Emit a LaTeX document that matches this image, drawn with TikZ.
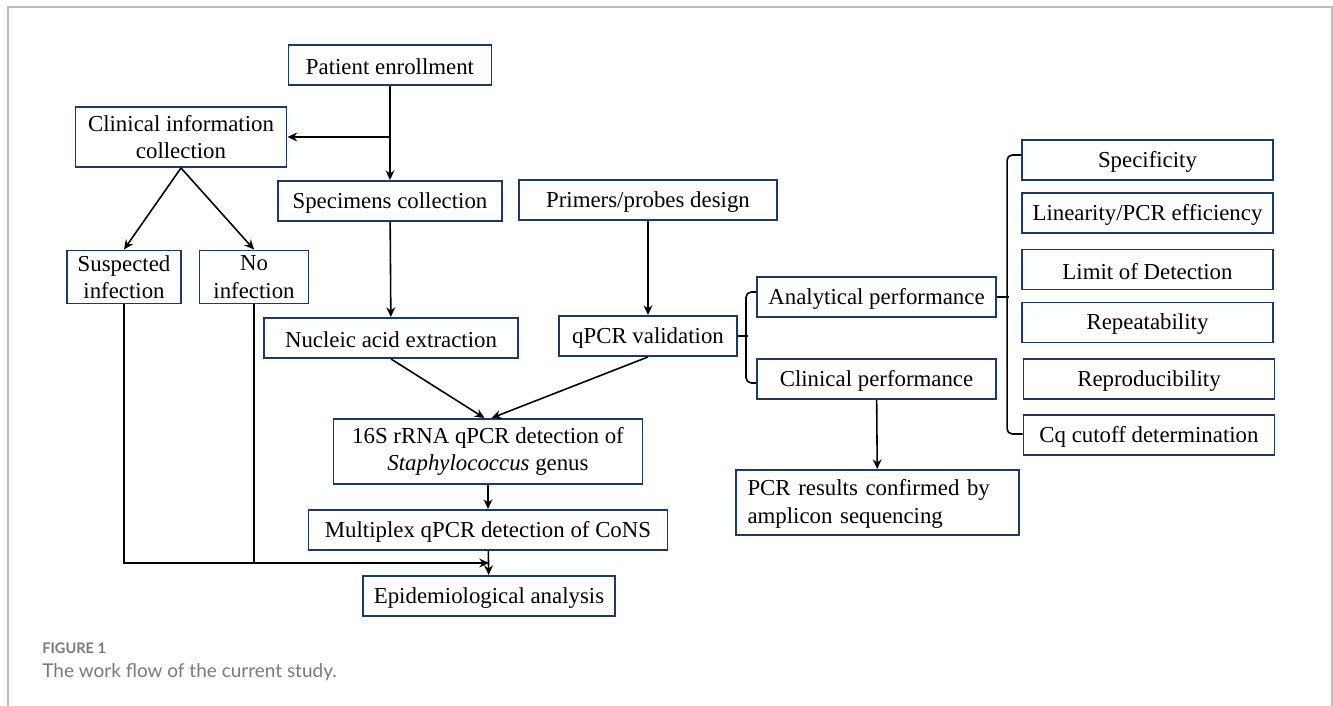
\documentclass[tikz,border=0pt]{standalone}
\usepackage{fontspec}
\setmainfont{Liberation Serif}
\newfontfamily\capfont{Lato}
\usetikzlibrary{arrows.meta}
\definecolor{boxblue}{HTML}{1F3A60}
\definecolor{framegray}{HTML}{BDBDBD}
\definecolor{capgray}{HTML}{7A7A7A}
\tikzstyle{box}=[draw=boxblue, line width=1.1pt, inner sep=0, minimum height=0.8cm, align=center, execute at begin node={\rule{0pt}{11pt}}, font=\fontsize{13}{15.6}\selectfont]
\tikzstyle{tall}=[minimum height=1.2cm]
\tikzstyle{arr}=[line width=0.9pt, -{Stealth[length=5.5pt, width=5pt]}]
\tikzstyle{brk}=[line width=0.9pt, rounded corners=3pt]

\begin{document}
\begin{tikzpicture}
      \useasboundingbox (0,0) rectangle (26.66,-14.12);
      \draw[framegray, line width=1.2pt] (0.16,-14.12) -- (0.16,-0.14) -- (26.64,-0.14) -- (26.64,-14.12);

      \node[box, minimum width=4.06cm] (pat) at (7.8,-1.3) {Patient enrollment};
      \node[box, tall, minimum width=4.22cm] (clin) at (3.62,-2.74) {Clinical information\\collection};
      \node[box, minimum width=4.48cm] (spec) at (7.8,-4.02) {Specimens collection};
      \node[box, minimum width=5.16cm] (prim) at (12.96,-4.0) {Primers/probes design};
      \node[box, tall, minimum height=1.06cm, minimum width=2.28cm] (susp) at (2.48,-5.54) {Suspected\\infection};
      \node[box, tall, minimum height=1.06cm, minimum width=2.18cm] (noinf) at (5.08,-5.54) {No\\infection};
      \node[box, minimum width=5.08cm] (nucl) at (7.82,-6.76) {Nucleic acid extraction};
      \node[box, minimum width=3.56cm] (val) at (12.96,-6.72) {qPCR validation};
      \node[box, tall, minimum height=1.3cm, minimum width=6.18cm] (rrna) at (9.76,-9.03) {16S rRNA qPCR detection of\\\textit{Staphylococcus} genus};
      \node[box, minimum width=7.18cm] (mult) at (9.76,-10.6) {Multiplex qPCR detection of CoNS};
      \node[box, minimum width=5.04cm] (epi) at (9.78,-11.92) {Epidemiological analysis};

      \node[box, minimum width=4.78cm] (anal) at (17.53,-5.94) {Analytical performance};
      \node[box, minimum width=4.78cm] (clinp) at (17.53,-7.58) {Clinical performance};
      \node[box, tall, minimum height=1.3cm, minimum width=5.66cm, text width=5.2cm, align=left] (seq) at (17.55,-10.05) {PCR results confirmed by\\amplicon sequencing};

      \node[box, minimum width=5.02cm] (specif) at (22.95,-3.2) {Specificity};
      \node[box, minimum width=5.02cm] (lin) at (22.95,-4.26) {Linearity/PCR efficiency};
      \node[box, minimum width=5.02cm] (lod) at (22.95,-5.39) {Limit of Detection};
      \node[box, minimum width=5.02cm] (rep) at (22.95,-6.45) {Repeatability};
      \node[box, minimum width=5.02cm] (repro) at (22.98,-7.58) {Reproducibility};
      \node[box, minimum width=5.02cm] (cq) at (22.98,-8.7) {Cq cutoff determination};

      \draw[arr] (pat) -- (spec);
      \draw[arr] (pat.south |- clin.east) -- (clin.east);
      \draw[arr] (clin.south) -- (susp.north);
      \draw[arr] (clin.south) -- (noinf.north);
      \draw[arr] (spec) -- (nucl);
      \draw[arr] (prim) -- (val);
      \draw[arr] (nucl.south) -- ([xshift=-2pt]rrna.north);
      \draw[arr] (val.south) -- ([xshift=2pt]rrna.north);
      \draw[arr] (rrna) -- (mult);
      \draw[arr] (mult) -- (epi);
      \coordinate (join) at (9.78,-11.26);
      \draw[arr] (susp.south) |- (join);
      \draw[line width=0.9pt] (noinf.south) -- (noinf.south |- join);
      \draw[arr] (clinp) -- (seq);

      \draw[brk] ([yshift=0.1cm]anal.west) -- ++(-0.2,0) |- ([yshift=-0.08cm]clinp.west);
      \draw[line width=0.9pt] (val.east) -- ++(0.2,0);
      \draw[brk] ([yshift=0.1cm]specif.west) -- ++(-0.28,0) |- ([yshift=0.02cm]cq.west);
      \draw[line width=0.9pt] (anal.east) -- ++(0.24,0);

      \node[anchor=west, inner sep=0, text=capgray, font=\capfont\bfseries\fontsize{8.3}{10}\selectfont] (fig) at (0.84,-12.97) {FIGURE 1};
      \node[anchor=west, inner sep=0, text=capgray, font=\capfont\fontsize{10.8}{13}\selectfont] (cap) at (0.84,-13.44) {The work flow of the current study.};
\end{tikzpicture}
\end{document}
